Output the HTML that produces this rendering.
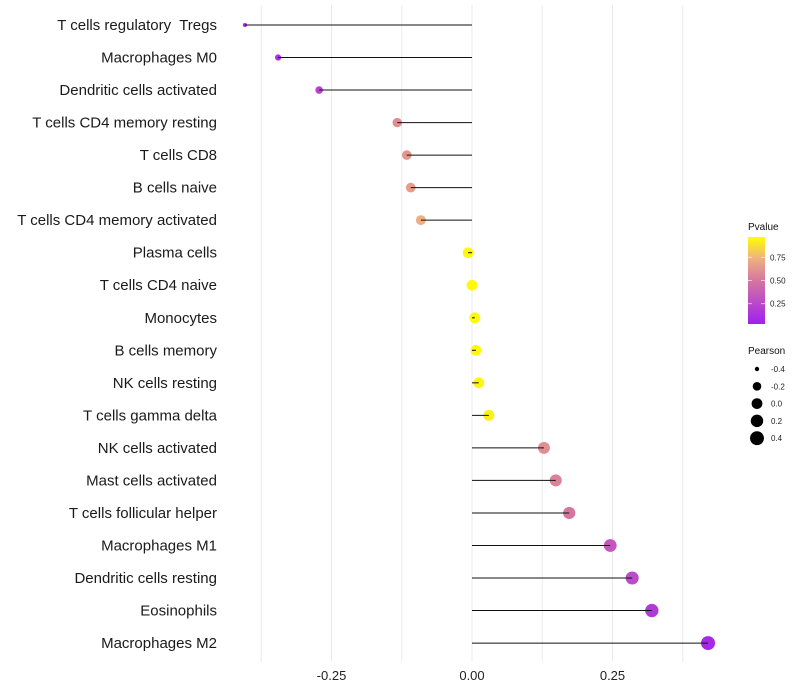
<!DOCTYPE html>
<html><head><meta charset="utf-8"><style>
body{margin:0;background:#fff;font-family:"Liberation Sans",sans-serif}
svg{display:block}
text{white-space:pre}
</style></head><body>
<svg id="chart" width="800" height="700"></svg>
<script>
const categories=["T cells regulatory  Tregs","Macrophages M0","Dendritic cells activated","T cells CD4 memory resting","T cells CD8","B cells naive","T cells CD4 memory activated","Plasma cells","T cells CD4 naive","Monocytes","B cells memory","NK cells resting","T cells gamma delta","NK cells activated","Mast cells activated","T cells follicular helper","Macrophages M1","Dendritic cells resting","Eosinophils","Macrophages M2"];
const pearson=[-0.404,-0.345,-0.272,-0.133,-0.116,-0.109,-0.091,-0.007,0.0,0.005,0.007,0.012,0.03,0.128,0.149,0.173,0.246,0.285,0.32,0.42];
const pvalues=[0.05,0.1,0.22,0.6,0.64,0.67,0.74,0.98,0.98,0.98,0.98,0.97,0.95,0.6,0.55,0.5,0.32,0.25,0.15,0.05];
const xTicks=[-0.25,0,0.25];
const xTickLabels=["-0.25","0.00","0.25"];
const xMinor=[-0.375,-0.125,0.125,0.375];
const sizeLegend=[-0.4,-0.2,0.0,0.2,0.4];
const pLegend=[0.25,0.5,0.75];

const NS="http://www.w3.org/2000/svg";
const svg=document.getElementById('chart');
const x=v=>472+v*562;
const y=i=>25+i*32.53;
const r=v=>1.6+5.4*Math.sqrt(Math.max(0,(v+0.41)/0.83));
function lerp(a,b,t){return a.map((c,i)=>Math.round(c+(b[i]-c)*t));}
function col(p){
  const stops=[[0,[160,32,240]],[0.5,[214,118,160]],[0.75,[238,176,128]],[1,[255,255,0]]];
  for(let k=0;k<stops.length-1;k++){if(p<=stops[k+1][0]){const t=(p-stops[k][0])/(stops[k+1][0]-stops[k][0]);const c=lerp(stops[k][1],stops[k+1][1],t);return `rgb(${c})`;}}
  return 'rgb(255,255,0)';
}
function el(t,a,parent){const e=document.createElementNS(NS,t);for(const k in a)e.setAttribute(k,a[k]);(parent||svg).appendChild(e);return e;}

xMinor.forEach(v=>{const g=el('line',{x1:x(v),x2:x(v),y1:5,y2:662,stroke:'#ececec','stroke-width':1});

});
xTicks.forEach((v,i)=>{const g=el('line',{x1:x(v),x2:x(v),y1:5,y2:662,stroke:'#ebebeb','stroke-width':1});


const t=el('text',{x:x(v),y:680,'text-anchor':'middle','font-size':13,fill:'#222'});t.textContent=xTickLabels[i];

});

categories.forEach((c,i)=>{
  const t=el('text',{x:217,y:y(i)+5,'text-anchor':'end','font-size':15,fill:'#1a1a1a'});t.textContent=c;
  
  
  const d=el('circle',{cx:x(pearson[i]),cy:y(i),r:r(pearson[i]),fill:col(pvalues[i])});
  
  
  const l=el('line',{x1:x(0),x2:x(pearson[i]),y1:y(i),y2:y(i),stroke:'#111','stroke-width':1});
  
  
});

const defs=el('defs',{});
const lg=el('linearGradient',{id:'pg',x1:0,y1:1,x2:0,y2:0},defs);
[0,0.25,0.5,0.75,1].forEach(s=>el('stop',{offset:s,'stop-color':col(s)},lg));
const lt=el('text',{x:748,y:230,'font-size':10,fill:'#111'});lt.textContent='Pvalue';


const bar=el('rect',{x:748,y:237,width:17,height:87,fill:'url(#pg)'});


const py=p=>324-(p-0.03)/(0.97-0.03)*87;
pLegend.forEach(p=>{el('line',{x1:748,x2:752,y1:py(p),y2:py(p),stroke:'#fff','stroke-opacity':0.6});el('line',{x1:761,x2:765,y1:py(p),y2:py(p),stroke:'#fff','stroke-opacity':0.6});
const t=el('text',{x:770,y:py(p)+3,'font-size':8,fill:'#222'});t.textContent=p.toFixed(2);

});
const st=el('text',{x:748,y:354,'font-size':10,fill:'#111'});st.textContent='Pearson';


sizeLegend.forEach((v,i)=>{const cy=369+i*17.3;const c=el('circle',{cx:757,cy:cy,r:r(v),fill:'#000'});


const t=el('text',{x:771,y:cy+3,'font-size':8,fill:'#222'});t.textContent=v.toFixed(1);

});
</script>
</body></html>
